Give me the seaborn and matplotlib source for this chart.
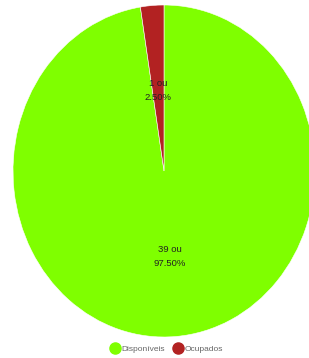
import seaborn as sns
import matplotlib
matplotlib.use('Agg')
import matplotlib.pyplot as plt
from matplotlib.lines import Line2D

labels = ["Disponíveis", "Ocupados"]
values = [39, 1]
colors = ["#7fff00", "#b22222"]

sns.set_theme(style="white")
plt.rcParams['font.family'] = ['Liberation Sans', 'DejaVu Sans']

fig = plt.figure(figsize=(3.09, 3.58), dpi=100)
ax = fig.add_axes([13 / 309, 21 / 358, 302 / 309, 332 / 358])

total = sum(values)
texts = [f"{v} ou\n{v / total * 100:.2f}%" for v in values]

wedges, txts = ax.pie(
    values,
    labels=texts,
    colors=colors,
    startangle=90,
    counterclock=False,
    labeldistance=0.5,
    wedgeprops=dict(edgecolor="white", linewidth=0.4),
    textprops=dict(fontsize=6.8, color="#222222", ha="center", va="center",
                   linespacing=1.75),
)
# nudge labels down a little
for t in txts:
    x, y = t.get_position()
    t.set_position((x, y - 0.015))

ax.set_aspect('auto')
ax.set_xlim(-1, 1)
ax.set_ylim(-1, 1)
ax.axis('off')

handles = [
    Line2D([0], [0], marker='o', linestyle='', markersize=8,
           markerfacecolor=c, markeredgecolor=c)
    for c in colors
]
fig.legend(handles, labels, loc='center', bbox_to_anchor=(0.54, 9 / 358),
           ncol=2, frameon=False, fontsize=6, labelcolor="#666666",
           handletextpad=0.3, columnspacing=1.0, handlelength=1.0)

fig.savefig("out.png", dpi=100)
